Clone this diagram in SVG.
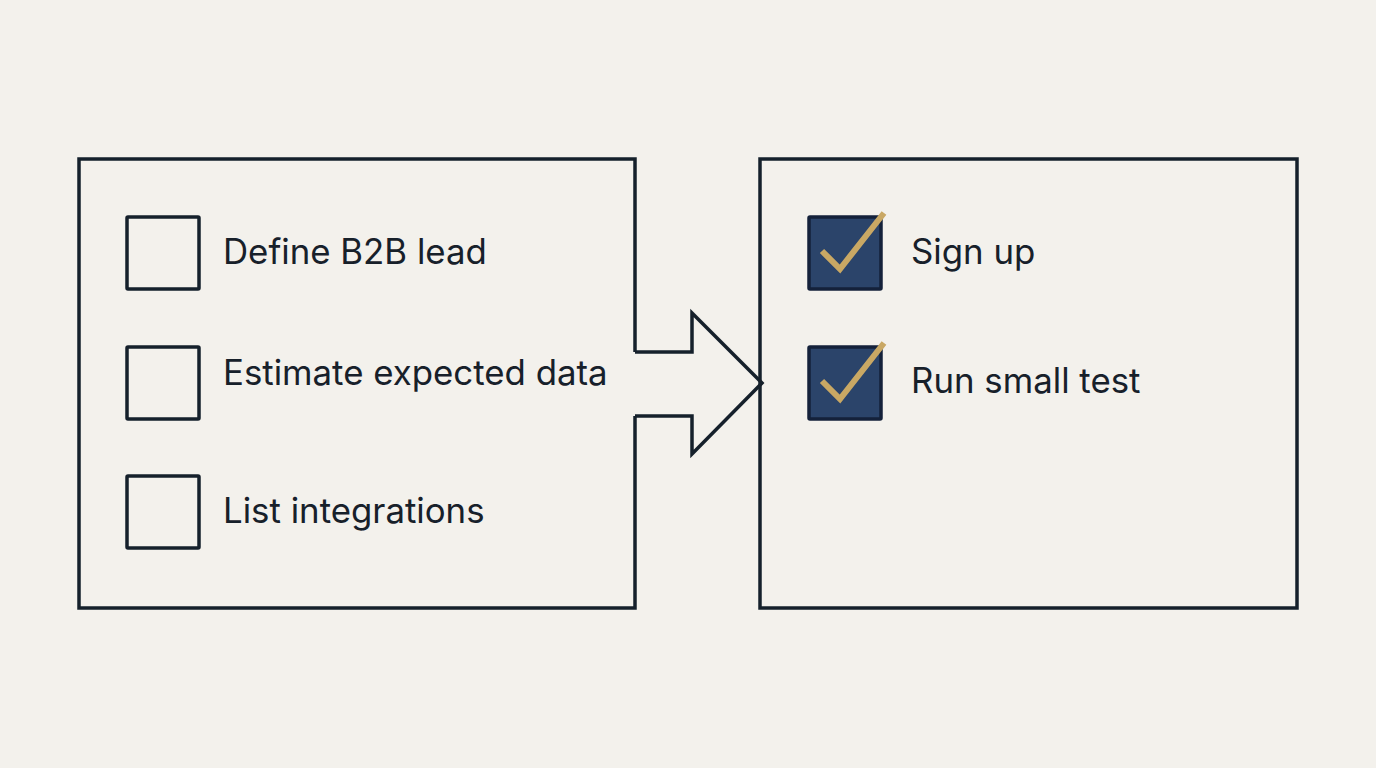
<svg xmlns="http://www.w3.org/2000/svg" width="1376" height="768" viewBox="0 0 1376 768">
<style>
.frame{fill:none;stroke:#15202b;stroke-width:3.5;stroke-linejoin:miter}
.box{fill:none;stroke:#15202b;stroke-width:3.5}
.done{fill:#2b446a;stroke:#14213a;stroke-width:3.5}
.tick{fill:none;stroke:#c9a864;stroke-width:6;stroke-linecap:butt;stroke-linejoin:miter}
.lbl{font-family:Inter,"Liberation Sans",sans-serif;font-size:34.8px;fill:#17202a}
</style>
<rect width="1376" height="768" fill="#f3f1ec"/>
<g id="todo-panel">
<path class="frame" d="M635,352 V159 H79 V608 H635 V416"/>
</g>
<g id="connectors">
<path class="frame" d="M635,352 H692 V313 L762,383 L692,454 V416 H635"/>
</g>
<g id="done-panel">
<rect class="frame" x="760" y="159" width="537" height="449"/>
</g>
<g id="item-define">
<rect class="box" x="127" y="217" width="72" height="72" rx="1"/>
<text class="lbl" x="223" y="264">Define B2B lead</text>
</g>
<g id="item-estimate">
<rect class="box" x="127" y="347" width="72" height="72" rx="1"/>
<text class="lbl" x="223" y="385">Estimate expected data</text>
</g>
<g id="item-list">
<rect class="box" x="127" y="476" width="72" height="72" rx="1"/>
<text class="lbl" x="223" y="523">List integrations</text>
</g>
<g id="item-signup">
<rect class="done" x="809" y="217" width="72" height="72" rx="1"/>
<path class="tick" d="M822,251 L840,269 L884,213"/>
<text class="lbl" x="911" y="264">Sign up</text>
</g>
<g id="item-test">
<rect class="done" x="809" y="347" width="72" height="72" rx="1"/>
<path class="tick" d="M822,381 L840,399 L884,343"/>
<text class="lbl" x="911" y="393">Run small test</text>
</g>
</svg>
